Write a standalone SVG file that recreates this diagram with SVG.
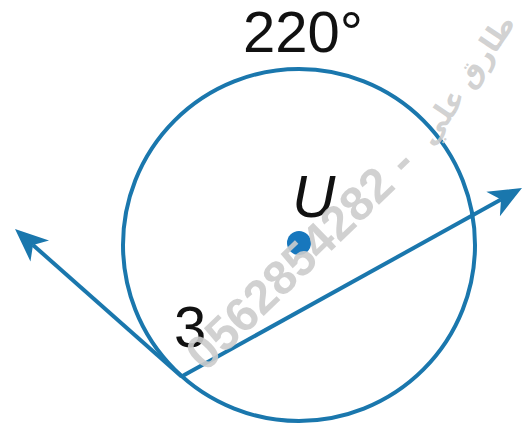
<svg xmlns="http://www.w3.org/2000/svg" width="523" height="427" viewBox="0 0 523 427">
<style>
.ln{fill:none;stroke:#1a77ad;stroke-width:4}
.lbl{font-family:"Liberation Sans",Arial,sans-serif;fill:#111}
.wm{font-family:"Liberation Sans","DejaVu Sans",sans-serif;font-weight:bold;fill:#cccccc;fill-opacity:0.9}
</style>
<defs>
<marker id="ah" markerUnits="userSpaceOnUse" markerWidth="40" markerHeight="40" viewBox="-10 -16 40 32" refX="0" refY="0" orient="auto" overflow="visible">
<path d="M24,0 L-9,-14 L0,0 L-9,14 Z" fill="#1a77ad"/>
</marker>
</defs>
<rect width="523" height="427" fill="#fff"/>
<g id="circle-U">
<circle class="ln" cx="299" cy="245" r="176"/>
<circle cx="299" cy="243" r="12" fill="#1777bd"/>
</g>
<g id="connectors">
<line class="ln" x1="181.6" y1="376.5" x2="33" y2="245" marker-end="url(#ah)"/>
<line class="ln" x1="181.6" y1="376.5" x2="501" y2="199.6" marker-end="url(#ah)"/>
</g>
<g id="labels">
<text class="lbl" x="303" y="52" font-size="58" text-anchor="middle">220°</text>
<text class="lbl" x="292" y="217" font-size="60" font-style="italic">U</text>
<text class="lbl" x="174" y="347" font-size="58">3</text>
</g>
<g id="watermark">
<text class="wm" x="0" y="0" font-size="48" transform="translate(205,373) rotate(-44)">0562854282 -</text>
<text class="wm" x="0" y="9" font-size="29" font-weight="normal" text-anchor="middle" transform="translate(467,80) rotate(-56)">طارق علي</text>
</g>
</svg>
